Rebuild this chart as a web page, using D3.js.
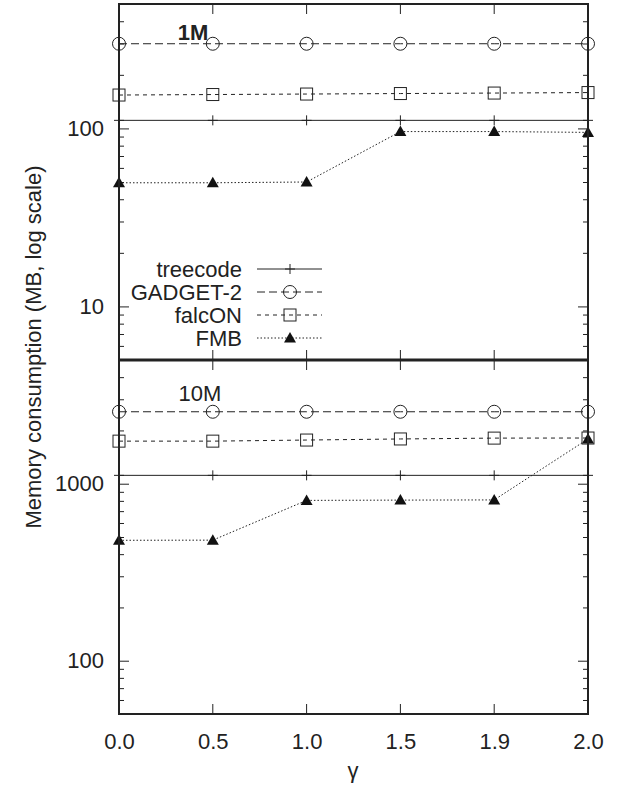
<!DOCTYPE html>
<html><head><meta charset="utf-8">
<script src="https://cdn.jsdelivr.net/npm/d3@7"></script>
<style>body{margin:0;background:#fff;} svg{display:block;} text{font-family:"Liberation Sans",Arial,sans-serif;fill:#222;}</style>
</head><body><svg id="c" width="627" height="789"></svg>
<script>
const gammas = ["0.0","0.5","1.0","1.5","1.9","2.0"];
const seriesNames = ["treecode","GADGET-2","falcON","FMB"];
// 1M particles (MB)
const tree1M   = [111,111,111,111,111,111];
const gadget1M = [299,299,299,299,299,299];
const falcon1M = [154,155,156,157,158,159];
const fmb1M    = [49.5,49.5,50,96,96,95];
// 10M particles (MB)
const tree10M   = [1115,1115,1115,1115,1115,1115];
const gadget10M = [2550,2550,2550,2550,2550,2550];
const falcon10M = [1740,1740,1765,1790,1810,1812];
const fmb10M    = [479,480,805,808,810,1790];
const panelLabels = ["1M","10M"];
const yMajor1M = [10,100];
const yMajor10M = [100,1000];

const svg = d3.select("#c");
const L = 119, R = 588, T = 4, MID = 360, B = 714;
const ink = "#222";
const FS = "22px";
const x = d3.scalePoint().domain(gammas).range([L,R]);
const yTop = d3.scaleLog().domain([5,500]).range([MID,T]);
const yBot = d3.scaleLog().domain([50,5000]).range([B,MID]);

const styles = [
  {dash:null, marker:"plus"},
  {dash:"8,4", marker:"circle"},
  {dash:"4,4", marker:"square"},
  {dash:"1.5,2", marker:"tri"}
];

function minorTicks(y){
  const [a,b] = y.domain(); const out=[];
  for(let e=Math.floor(Math.log10(a)); e<=Math.ceil(Math.log10(b)); e++){
    for(let k=2;k<=9;k++){const v=k*Math.pow(10,e); if(v>a&&v<b) out.push(v);}
  }
  return out;
}

function drawAxes(y, majors){
  const gL = svg.append("g").attr("transform",`translate(${L},0)`);
  gL.call(d3.axisLeft(y).tickValues(minorTicks(y)).tickSize(-5).tickFormat(""));
  gL.append("g").call(d3.axisLeft(y).tickValues(majors).tickSize(-10).tickPadding(15).tickFormat(d3.format("d")));
  const gR = svg.append("g").attr("transform",`translate(${R},0)`);
  gR.call(d3.axisRight(y).tickValues(minorTicks(y)).tickSize(-5).tickFormat(""));
  gR.append("g").call(d3.axisRight(y).tickValues(majors).tickSize(-10).tickFormat(""));
  svg.selectAll(".domain").remove();
}

function marker(g, type, cx, cy){
  if(type==="plus"){
    g.append("path").attr("d",`M${cx-5},${cy}H${cx+5}M${cx},${cy-5}V${cy+5}`).attr("stroke",ink).attr("stroke-width",1);
  } else if(type==="circle"){
    g.append("circle").attr("cx",cx).attr("cy",cy).attr("r",6.5).attr("fill","none").attr("stroke",ink).attr("stroke-width",1);
  } else if(type==="square"){
    g.append("rect").attr("x",cx-6).attr("y",cy-6).attr("width",12).attr("height",12).attr("fill","none").attr("stroke",ink).attr("stroke-width",1);
  } else {
    g.append("path").attr("d",`M${cx},${cy-6}L${cx+6},${cy+4.5}L${cx-6},${cy+4.5}Z`).attr("fill","#111");
  }
}

function drawSeries(y, data){
  data.forEach((vals,i)=>{
    const st = styles[i];
    const g = svg.append("g");
    const line = d3.line().x((d,j)=>x(gammas[j])).y(d=>y(d));
    g.append("path").attr("d",line(vals)).attr("fill","none").attr("stroke",ink)
      .attr("stroke-width",1).attr("stroke-dasharray",st.dash);
    vals.forEach((v,j)=>marker(g, st.marker, x(gammas[j]), y(v)));
  });
}

drawAxes(yTop, yMajor1M);
drawAxes(yBot, yMajor10M);

// x ticks on all horizontal borders
const xt = svg.append("g");
gammas.forEach(gm=>{
  const xx = x(gm);
  xt.append("path").attr("d",`M${xx},${T}V${T+10}M${xx},${MID}V${MID-10}M${xx},${MID}V${MID+10}M${xx},${B}V${B-10}`)
    .attr("stroke",ink).attr("stroke-width",1);
});
const gB = svg.append("g").attr("transform",`translate(0,${B})`)
  .call(d3.axisBottom(x).tickSize(0).tickPadding(19));
gB.select(".domain").remove();

svg.selectAll(".tick text").style("font-size",FS).style("font-family","'Liberation Sans',Arial,sans-serif").attr("fill",ink);
svg.selectAll(".tick line").attr("stroke",ink);

drawSeries(yTop,[tree1M,gadget1M,falcon1M,fmb1M]);
drawSeries(yBot,[tree10M,gadget10M,falcon10M,fmb10M]);

// frame
svg.append("rect").attr("x",L).attr("y",T).attr("width",R-L).attr("height",B-T)
  .attr("fill","none").attr("stroke",ink).attr("stroke-width",2);
svg.append("line").attr("x1",L).attr("x2",R).attr("y1",MID).attr("y2",MID).attr("stroke",ink).attr("stroke-width",3);

// panel labels
svg.append("text").attr("x",193).attr("y",40).attr("text-anchor","middle").style("font-size",FS).style("font-weight","bold").text(panelLabels[0]);
svg.append("text").attr("x",200).attr("y",401).attr("text-anchor","middle").style("font-size",FS).text(panelLabels[1]);

// legend
const legY = [269,292,315,338];
seriesNames.forEach((nm,i)=>{
  const g = svg.append("g");
  g.append("text").attr("x",242).attr("y",legY[i]).attr("dy","0.35em").attr("text-anchor","end").style("font-size",FS).text(nm);
  g.append("line").attr("x1",257).attr("x2",322).attr("y1",legY[i]).attr("y2",legY[i])
    .attr("stroke",ink).attr("stroke-width",1).attr("stroke-dasharray",styles[i].dash);
  marker(g, styles[i].marker, 290, legY[i]);
});

// axis titles
svg.append("text").attr("x",353).attr("y",778).attr("text-anchor","middle").style("font-size",FS).text("γ");
svg.append("text").attr("transform","translate(33,347) rotate(-90)").attr("dy","0.35em").attr("text-anchor","middle").style("font-size",FS).text("Memory consumption (MB, log scale)");
</script></body></html>
